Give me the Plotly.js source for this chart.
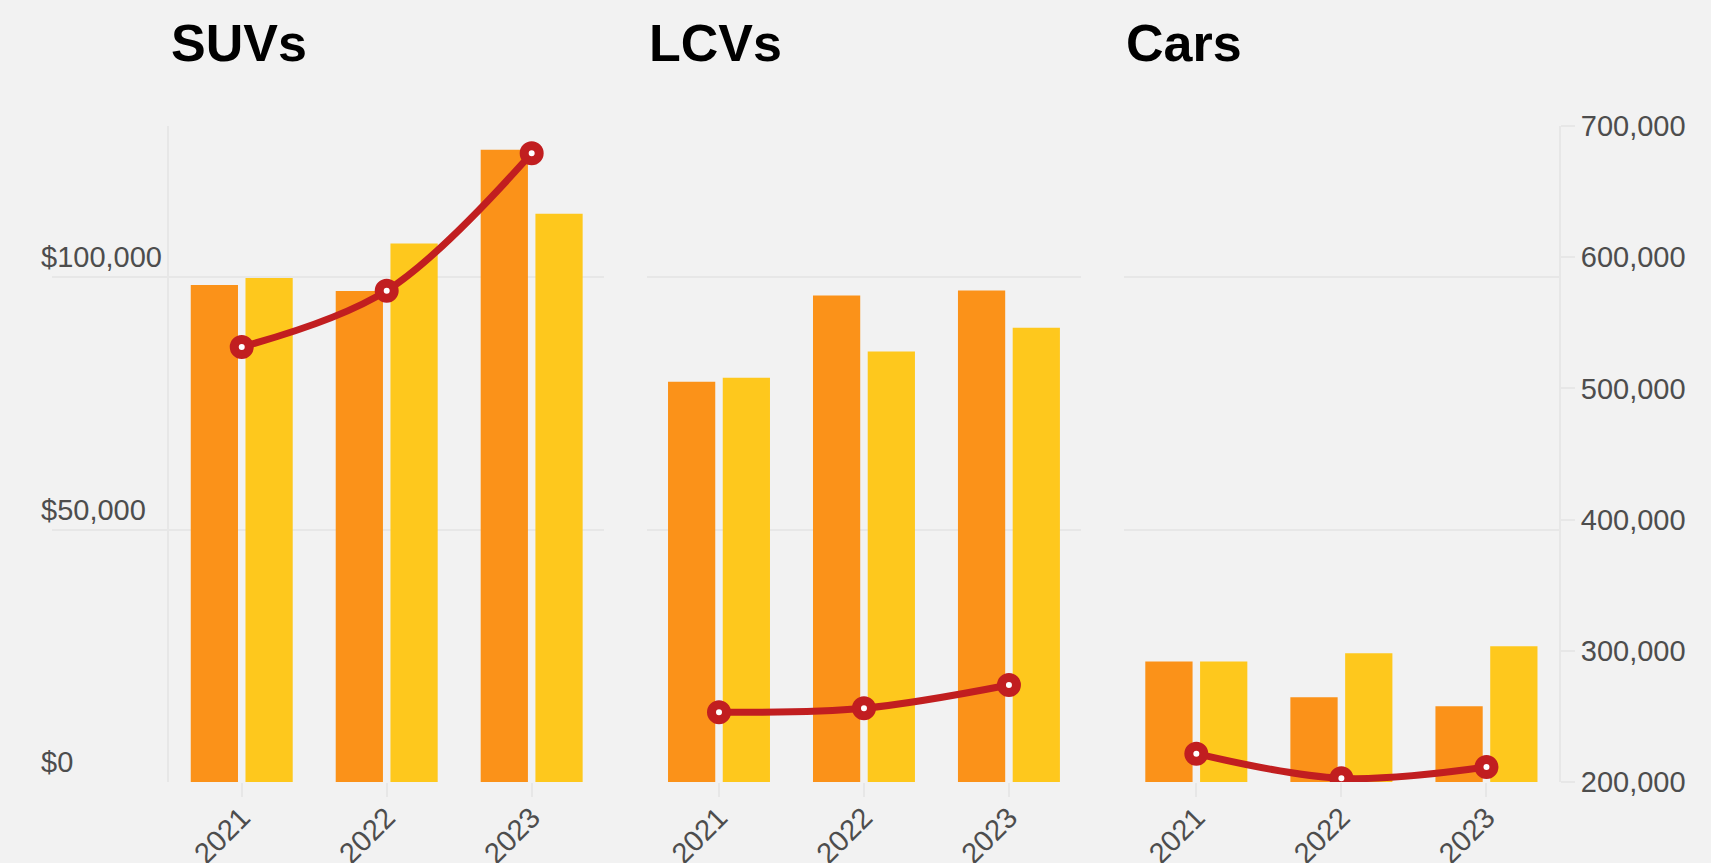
<!DOCTYPE html>
<html>
<head>
<meta charset="utf-8">
<script src="https://cdn.plot.ly/plotly-3.0.1.min.js"></script>
<style>
  html, body { margin: 0; padding: 0; background: #f2f2f2; }
  #chart { width: 1711px; height: 863px; }
</style>
</head>
<body>
<div id="chart"></div>
<script>
// categories
const years = ["2021", "2022", "2023"];
const panels = ["SUVs", "LCVs", "Cars"];

// bars, left axis ($)
const orangeVals = {
  SUVs: [98500, 97300, 125300],
  LCVs: [79300, 96400, 97400],
  Cars: [23900, 16800, 15000]
};
const yellowVals = {
  SUVs: [99900, 106700, 112600],
  LCVs: [80100, 85300, 90000],
  Cars: [23900, 25500, 26900]
};

// line, right axis
const lineVals = {
  SUVs: [531600, 574500, 679200],
  LCVs: [253100, 256200, 273900],
  Cars: [221600, 202800, 211400]
};

const leftTicks = [0, 50000, 100000];
const rightTicks = [200000, 300000, 400000, 500000, 600000, 700000];

const orange = "#fb9219";
const yellow = "#fec81d";
const red = "#c11e20";
const grid = "#e7e7e7";
const txt = "#4d4d4d";
const fnt = "Liberation Sans, Arial, sans-serif";

const domains = [[0.0778, 0.3664], [0.3945, 0.6831], [0.7112, 1]];
const leftMax = 130000;
const rightRange = [200000, 700000];

var data = [];
var layout = {
  width: 1711, height: 863,
  margin: {l: 52, r: 152, t: 126, b: 81},
  paper_bgcolor: "#f2f2f2",
  plot_bgcolor: "#f2f2f2",
  showlegend: false,
  barmode: "group",
  bargap: 0.245,
  bargroupgap: 0.137,
  font: {family: fnt, color: txt, size: 29},
  annotations: []
};

panels.forEach(function(p, i){
  var xa = i === 0 ? "x" : "x" + (i + 1);
  var yb = i === 0 ? "y" : "y" + (2 * i + 1);
  var yl = "y" + (2 * i + 2);

  data.push({type: "bar", name: "A", x: years, y: orangeVals[p], xaxis: xa, yaxis: yb,
    marker: {color: orange}, hoverinfo: "x+y"});
  data.push({type: "bar", name: "B", x: years, y: yellowVals[p], xaxis: xa, yaxis: yb,
    marker: {color: yellow}, hoverinfo: "x+y"});
  data.push({type: "scatter", mode: "lines+markers", name: "Units", x: years, y: lineVals[p],
    xaxis: xa, yaxis: yl,
    line: {color: red, width: 7, shape: "spline"},
    marker: {size: 15, color: "#ffffff", line: {color: red, width: 9}}});

  layout["xaxis" + (i === 0 ? "" : i + 1)] = {
    domain: domains[i], anchor: yb, type: "category",
    tickangle: -45, ticks: "outside", ticklen: 14, tickwidth: 2, tickcolor: grid,
    ticklabelstandoff: -8,
    showgrid: false, showline: false, zeroline: false,
    tickfont: {size: 29, color: txt}
  };
  layout["yaxis" + (i === 0 ? "" : 2 * i + 1)] = {
    anchor: xa, range: [0, leftMax], tickvals: leftTicks,
    showticklabels: false, ticks: "",
    showgrid: true, gridcolor: grid, gridwidth: 2, zeroline: false,
    showline: i === 0, linecolor: grid, linewidth: 2
  };
  layout["yaxis" + (2 * i + 2)] = {
    overlaying: yb, anchor: xa, side: "right",
    range: rightRange, tickvals: rightTicks, tickformat: ",",
    showgrid: false, zeroline: false,
    visible: i === 2,
    ticks: "outside", ticklen: 14, tickwidth: 2, tickcolor: grid,
    showline: true, linecolor: grid, linewidth: 2,
    tickfont: {size: 29, color: txt}
  };

  layout.annotations.push({
    text: "<b>" + p + "</b>", xref: "paper", yref: "paper",
    x: domains[i][0], y: 1.1265, xanchor: "left", yanchor: "middle",
    showarrow: false, font: {family: fnt, size: 52, color: "#000000"}
  });
});

// label strip for the $ axis, left of the first panel (empty trace makes the subplot)
data.push({type: "scatter", x: [], y: [], xaxis: "x4", yaxis: "y7", hoverinfo: "skip"});
layout.xaxis4 = {domain: [0, 0.0778], anchor: "y7", range: [0, 1], visible: false, fixedrange: true};
layout.yaxis7 = {
  anchor: "x4", range: [0, leftMax], tickvals: leftTicks,
  tickformat: "$,",
  ticklabelposition: "inside top", ticklabelstandoff: -14,
  showgrid: true, gridcolor: grid, gridwidth: 2, zeroline: false, showline: false, ticks: "",
  tickfont: {size: 29, color: txt}
};

Plotly.newPlot("chart", data, layout, {displayModeBar: false, staticPlot: true});
</script>
</body>
</html>
